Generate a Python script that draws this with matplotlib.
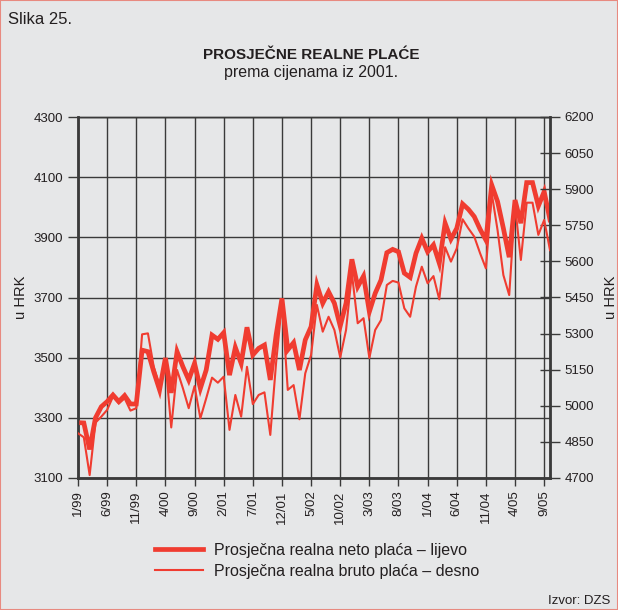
import numpy as np
import matplotlib.pyplot as plt
from matplotlib.lines import Line2D

plt.rcParams['font.family'] = ['Liberation Sans', 'DejaVu Sans']

# monthly data, 1/99 .. 10/05
neto = [3284, 3283, 3195, 3300, 3337, 3354, 3376, 3354, 3374, 3346,
        3346, 3525, 3520, 3453, 3393, 3499, 3383, 3520, 3470, 3426,
        3481, 3398, 3459, 3575, 3561, 3583, 3442, 3534, 3481, 3601,
        3509, 3531, 3542, 3426, 3575, 3697, 3526, 3550, 3459, 3559,
        3603, 3742, 3681, 3719, 3681, 3605, 3681, 3827, 3736, 3771,
        3653, 3714, 3758, 3849, 3860, 3852, 3781, 3767, 3847, 3897,
        3852, 3875, 3814, 3947, 3894, 3930, 4011, 3993, 3969, 3927,
        3891, 4074, 4019, 3930, 3834, 4024, 3947, 4082, 4082, 4004,
        4052, 3958]
bruto = [4886, 4869, 4712, 4930, 4955, 4983, 5038, 5010, 5031, 4980,
         4990, 5297, 5301, 5162, 5086, 5183, 4910, 5149, 5073, 4990,
         5082, 4948, 5031, 5117, 5096, 5121, 4900, 5045, 4955, 5162,
         5007, 5045, 5056, 4879, 5180, 5426, 5066, 5086, 4944, 5135,
         5211, 5419, 5308, 5370, 5315, 5201, 5315, 5550, 5343, 5364,
         5199, 5315, 5356, 5502, 5519, 5512, 5405, 5370, 5495, 5578,
         5509, 5539, 5442, 5659, 5599, 5654, 5775, 5737, 5703, 5634,
         5571, 5883, 5730, 5543, 5460, 5834, 5606, 5844, 5844, 5710,
         5772, 5647]
xlabels = ['1/99', '6/99', '11/99', '4/00', '9/00', '2/01', '7/01', '12/01',
           '5/02', '10/02', '3/03', '8/03', '1/04', '6/04', '11/04', '4/05', '9/05']

bg = '#e6e7e8'
red = '#f03c30'
grid = '#3a3a3a'
txt = '#231f20'

fig = plt.figure(figsize=(6.18, 6.10), dpi=100, facecolor=bg)
ax = fig.add_axes([78/618, 1-478/610, 472/618, 361/610], facecolor=bg)
ax2 = ax.twinx()

x = np.arange(len(neto))
ax.plot(x, neto, color=red, lw=3.4, solid_joinstyle='miter', zorder=3)
ax2.plot(x, bruto, color=red, lw=1.5, zorder=3)

ax.set_xlim(0, len(neto) - 1)
ax.set_ylim(3100, 4300)
ax.set_yticks(np.arange(3100, 4301, 200))
ax.set_xticks(np.arange(0, len(xlabels) * 5, 5))
ax.set_xticklabels(xlabels, rotation=90, fontsize=9.5, color=txt)
ax.tick_params(axis='y', labelsize=9.5, labelcolor=txt, length=7, width=1, color=grid, direction='out')
ax.tick_params(axis='x', length=6, width=1, color=grid, direction='out', pad=3)
ax.grid(True, color=grid, lw=1)
ax.set_axisbelow(True)

ax2.set_ylim(4700, 6200)
ax2.set_yticks(np.arange(4700, 6201, 150))
ax2.tick_params(axis='y', labelsize=9.5, labelcolor=txt, length=14, width=1, color=grid, direction='inout')

for a in (ax, ax2):
    for s in a.spines.values():
        s.set_color(grid)
        s.set_linewidth(1)
ax.spines['left'].set_linewidth(2)
ax.spines['bottom'].set_linewidth(2)
ax2.spines['right'].set_linewidth(2)

ax.set_ylabel('u HRK', fontsize=10.5, color=txt, labelpad=4)
ax2.set_ylabel('u HRK', fontsize=10.5, color=txt, labelpad=7)

fig.text(8/618, 1-20/610, 'Slika 25.', fontsize=12, color=txt, va='center')
fig.text(311/618, 1-55/610, 'PROSJEČNE REALNE PLAĆE', fontsize=11, fontweight='bold',
         color=txt, ha='center', va='center')
fig.text(311/618, 1-73/610, 'prema cijenama iz 2001.', fontsize=11.5, color=txt,
         ha='center', va='center')
fig.text(610/618, 1-601/610, 'Izvor: DZS', fontsize=9.5, color=txt, ha='right', va='center')

handles = [Line2D([], [], color=red, lw=3.4), Line2D([], [], color=red, lw=1.5)]
labels = ['Prosječna realna neto plaća – lijevo', 'Prosječna realna bruto plaća – desno']
fig.legend(handles, labels, loc='upper left', bbox_to_anchor=(155/618, 1-543/610),
           frameon=False, fontsize=11.5, handlelength=3.0, handletextpad=0.72,
           labelspacing=0.36, borderpad=0, borderaxespad=0, labelcolor=txt)

border = plt.Rectangle((0, 0), 1, 1, transform=fig.transFigure, fill=False,
                       edgecolor='#e88a80', lw=1.5)
fig.patches.append(border)

fig.savefig('out.png', dpi=100, facecolor=bg)
